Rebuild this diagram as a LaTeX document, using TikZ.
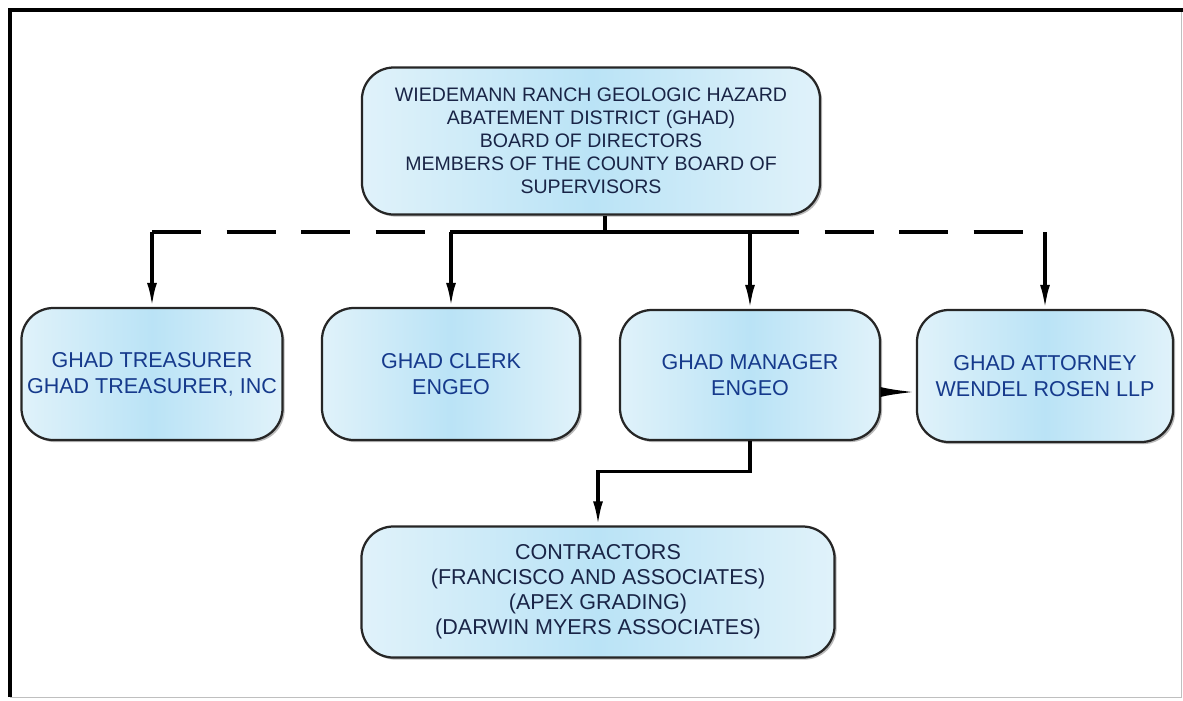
\documentclass[tikz,border=0pt]{standalone}
\usepackage{fontspec}
\setmainfont{Liberation Sans}
\usepackage{tikz}
\usetikzlibrary{arrows.meta}
\usetikzlibrary{shadows}
\definecolor{boardtext}{RGB}{25,36,70}
\definecolor{roletext}{RGB}{22,58,140}
\definecolor{paleblue}{RGB}{224,242,250}
\definecolor{midblue}{RGB}{186,227,246}

\begin{document}
\begin{tikzpicture}[x=0.025cm, y=-0.025cm,
    office/.style={draw=black!85, line width=1.6pt, rounded corners=0.8cm, align=center, inner sep=0pt,
        left color=paleblue, right color=paleblue, middle color=midblue,
        drop shadow={shadow xshift=1.5pt, shadow yshift=-1.5pt, fill=black!45, opacity=.6},
        font=\fontsize{15.3}{18.4}\selectfont, text=roletext},
    link/.style={line width=2.3pt, -{Latex[length=17pt,width=7pt]}},
    retained/.style={line width=2.3pt, dash pattern=on 35pt off 18pt}]
    \useasboundingbox (0, 0) rectangle (1183, 700);
    % frame
    \draw[black!25, line width=.6pt] (10, 10) rectangle (1181, 697);
    \draw[line width=2.8pt] (10, 697) -- (10, 10) -- (1183, 10);
    % offices
    \node[office, text=boardtext, minimum width=11.45cm, minimum height=3.675cm, font=\fontsize{13.9}{16.3}\selectfont] (board) at (591, 141)
        {WIEDEMANN RANCH GEOLOGIC HAZARD\\ABATEMENT DISTRICT (GHAD)\\BOARD OF DIRECTORS\\MEMBERS OF THE COUNTY BOARD OF\\SUPERVISORS};
    \node[office, minimum width=6.525cm, minimum height=3.3cm] (treasurer) at (152, 374) {GHAD TREASURER\\GHAD TREASURER, INC};
    \node[office, minimum width=6.45cm, minimum height=3.3cm] (clerk) at (451, 374) {GHAD CLERK\\ENGEO};
    \node[office, minimum width=6.5cm, minimum height=3.25cm] (manager) at (750, 375) {GHAD MANAGER\\ENGEO};
    \node[office, minimum width=6.4cm, minimum height=3.3cm] (attorney) at (1045, 376) {GHAD ATTORNEY\\WENDEL ROSEN LLP};
    \node[office, text=boardtext, minimum width=11.825cm, minimum height=3.275cm, font=\fontsize{15.3}{17.8}\selectfont] (contractors) at (598, 592)
        {CONTRACTORS\\(FRANCISCO AND ASSOCIATES)\\(APEX GRADING)\\(DARWIN MYERS ASSOCIATES)};
    % reporting lines
    \coordinate (bus) at (605, 232);
    \draw[line width=2.3pt] (board.south -| bus) -- (bus);
    \draw[line width=2.3pt] (clerk.north |- bus) -- (manager.north |- bus);
    \draw[retained] (treasurer.north |- bus) -- (clerk.north |- bus);
    \draw[retained] (manager.north |- bus) -- (attorney.north |- bus);
    \draw[link] (treasurer.north |- bus) -- (treasurer.north);
    \draw[link] (clerk.north |- bus) -- (clerk.north);
    \draw[link] (manager.north |- bus) -- (manager.north);
    \draw[link] (attorney.north |- bus) -- (attorney.north);
    \draw[link] (manager.south) -- ++(0, 30) -| (contractors.north);
    \draw[line width=2pt, -{Latex[length=25pt,width=7pt]}] ([yshift=-.425cm]manager.east) -- ([yshift=-.425cm]manager.east -| attorney.west);
\end{tikzpicture}
\end{document}
